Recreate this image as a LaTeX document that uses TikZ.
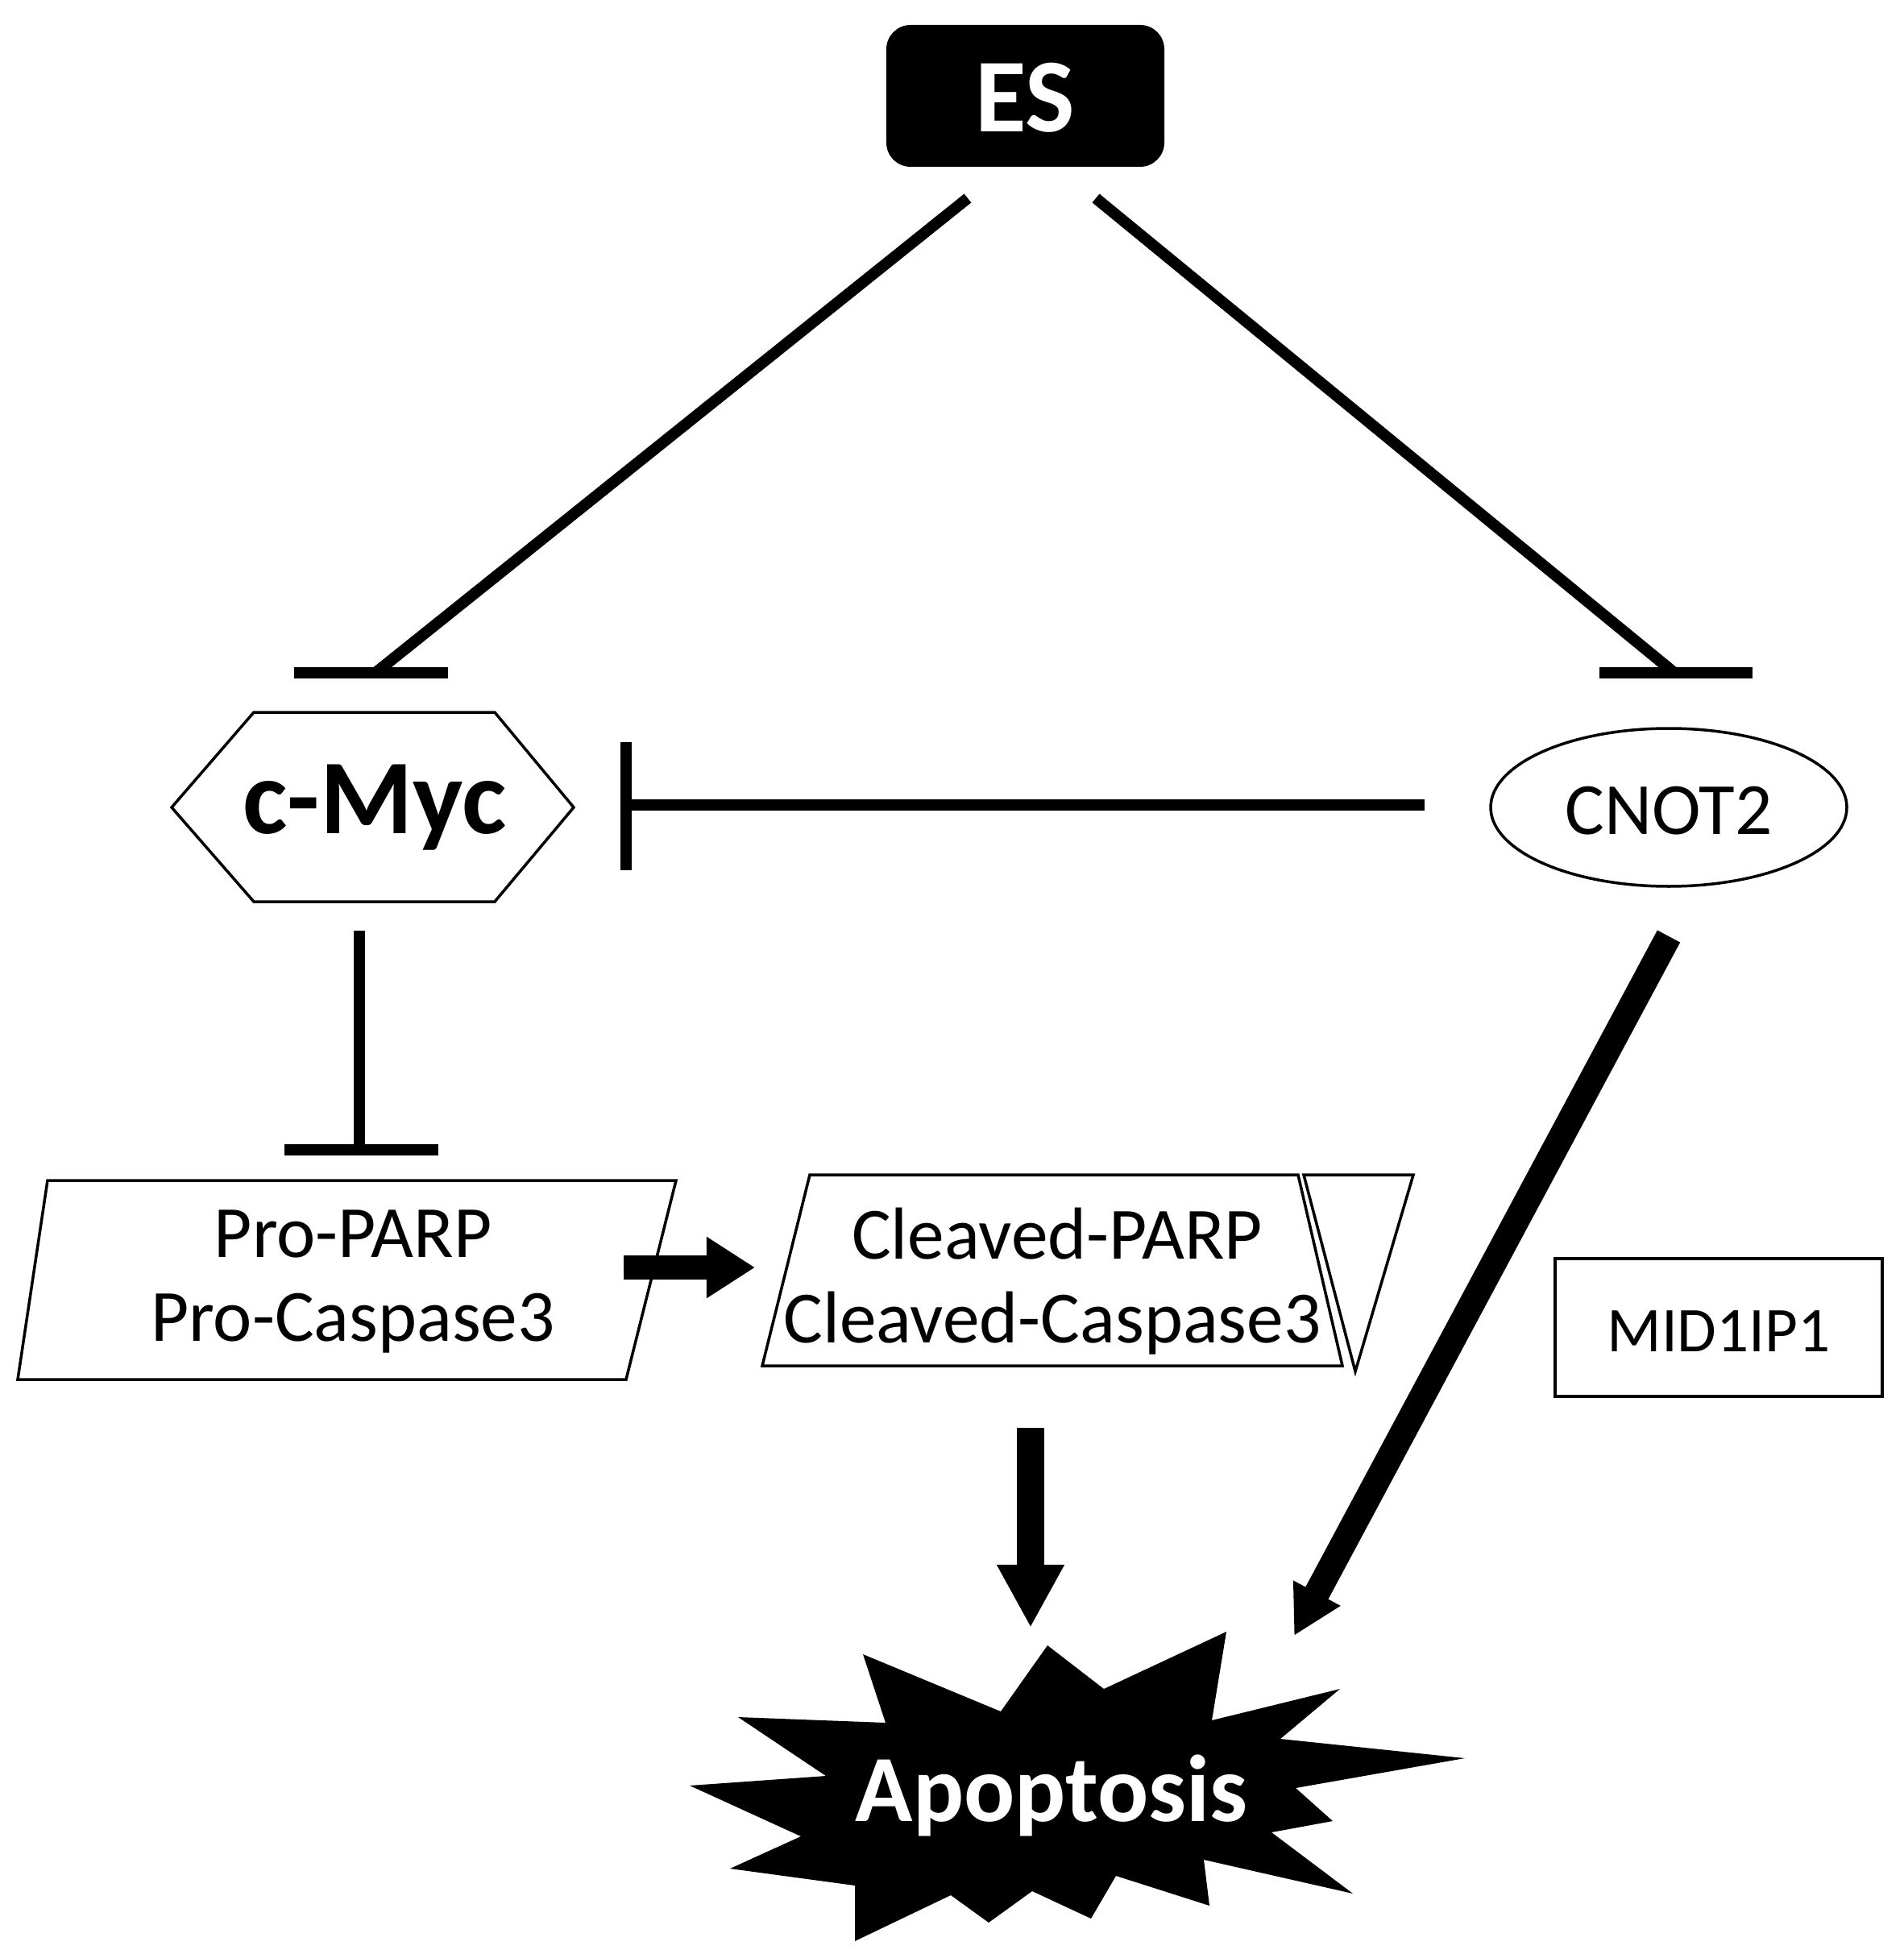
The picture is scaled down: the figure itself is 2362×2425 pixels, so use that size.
\documentclass[tikz,border=0pt]{standalone}
\usepackage{fontspec}
\setmainfont{Carlito}
\usetikzlibrary{arrows.meta}
\begin{document}
\begin{tikzpicture}[x=0.01cm,y=-0.01cm,
  inh/.style={line width=0.14cm},
  shp/.style={line width=0.035cm,line join=miter},
  lbl/.style={font=\fontsize{26}{31}\selectfont,align=center},
  blk/.style={line width=#1}]
\useasboundingbox (0,0) rectangle (2362,2425);
% ES
\fill[rounded corners=0.3cm] (1100,31) rectangle (1445,207);
\node[text=white,font=\bfseries\fontsize{37}{44}\selectfont] (es) at (1272,121) {ES};
\coordinate (esL) at (1201,246); \coordinate (esR) at (1360,246);
% c-Myc hexagon
\draw[shp] (213,1002) -- (315,884) -- (614,884) -- (712,1002) -- (614,1119) -- (315,1119) -- cycle;
\node[font=\bfseries\fontsize{37.5}{45}\selectfont] (cmyc) at (465,1002) {c-Myc};
% CNOT2
\draw[shp] (2071,1002) ellipse [x radius=221, y radius=98];
\node[lbl] (cnot) at (2071,1006) {CNOT2};
% Pro
\draw[shp] (59,1465) -- (839,1465) -- (777,1712) -- (22,1712) -- cycle;
\node[lbl] (pro1) at (438,1531) {Pro-PARP};
\node[lbl] (pro2) at (438,1642) {Pro-Caspase3};
% Cleaved
\draw[shp] (1005,1458) -- (1611,1458) -- (1666,1695) -- (946,1695) -- cycle;
\draw[shp] (1618,1458) -- (1754,1458) -- (1682,1702) -- cycle;
\node[lbl] (cl1) at (1312,1531) {Cleaved-PARP};
\node[lbl] (cl2) at (1306,1642) {Cleaved-Caspase3};
% MID1IP1
\draw[shp] (1930,1562) rectangle (2336,1733);
\node[font=\fontsize{22.5}{27}\selectfont] (mid) at (2133,1652) {MID1IP1};
% Apoptosis
\fill (1071,2053) -- (1099,2138) -- (916,2131) -- (1025,2204) -- (856,2216) -- (994,2279) -- (906,2319) -- (1061,2340) -- (1061,2409) -- (1180,2352) -- (1227,2386) -- (1281,2347) -- (1354,2381) -- (1385,2328) -- (1501,2365) -- (1494,2308) -- (1679,2350) -- (1578,2274) -- (1654,2260) -- (1608,2219) -- (1818,2182) -- (1589,2158) -- (1663,2096) -- (1504,2135) -- (1522,2025) -- (1370,2096) -- (1300,2042) -- (1242,2124) -- cycle;
\node[text=white,font=\bfseries\fontsize{33.5}{40}\selectfont] (apop) at (1305,2228) {Apoptosis};
% inhibition connectors
\coordinate (m1) at (466,835); \coordinate (c1) at (2078,835);
\draw[inh] (esL) -- (m1); \draw[inh] (365,835) -- (556,835);
\draw[inh] (esR) -- (c1); \draw[inh] (1985,835) -- (2175,835);
\coordinate (cnL) at (1768,999); \coordinate (myR) at (777,999);
\draw[inh] (cnL) -- (myR); \draw[inh] (777,921) -- (777,1080);
\coordinate (myB) at (446,1155); \coordinate (proT) at (446,1427);
\draw[inh] (myB) -- (proT); \draw[inh] (353,1427) -- (544,1427);
% activation arrows
\coordinate (proR) at (774,1573); \coordinate (clL) at (937,1573);
\draw[line width=0.3cm,-{Triangle[length=0.6cm,width=0.72cm]}] (proR) -- (clL);
\coordinate (clB) at (1279,1772); \coordinate (apT) at (1279,2020);
\draw[line width=0.34cm,-{Triangle[length=0.78cm,width=0.78cm]}] (clB) -- (apT);
\coordinate (cnB) at (2071,1162); \coordinate (apR) at (1606,2030);
\draw[line width=0.32cm,-{Triangle[length=0.6cm,width=0.62cm]}] (cnB) -- (apR);
\end{tikzpicture}
\end{document}
